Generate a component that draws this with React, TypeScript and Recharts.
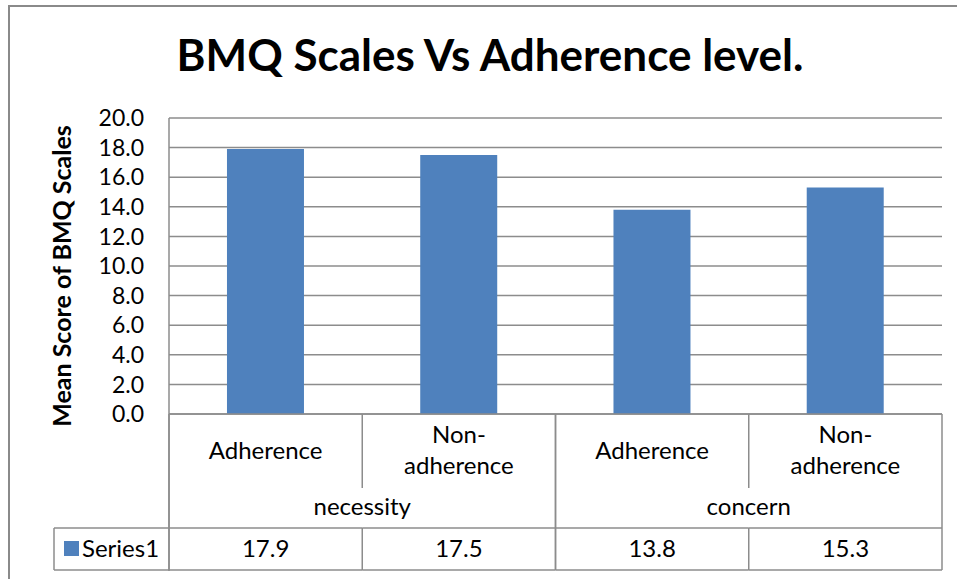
import { BarChart, Bar, XAxis, YAxis, CartesianGrid } from 'recharts';

const groupNames = ['necessity', 'necessity', 'concern', 'concern'];
const levelNames = ['Adherence', 'Non-\nadherence', 'Adherence', 'Non-\nadherence'];
const series1 = [17.9, 17.5, 13.8, 15.3];
const yTicks = [0, 2, 4, 6, 8, 10, 12, 14, 16, 18, 20];
const seriesName = 'Series1';
const title = 'BMQ Scales Vs Adherence level.';
const yTitle = 'Mean Score of BMQ Scales';

const data = levelNames.map((level, i) => ({
  id: i,
  level,
  group: groupNames[i],
  value: series1[i],
}));

const W = 957;
const H = 579;
const PLOT_LEFT = 169;
const PLOT_RIGHT = 942;
const PLOT_TOP = 118;
const PLOT_BOTTOM = 414;
const BAND = (PLOT_RIGHT - PLOT_LEFT) / data.length;
const LINE = '#8c8c8c';
const BAR = '#4f81bd';
const FONT = 'Lato, "Open Sans", sans-serif';
const FS = 24;

const TableTick = (props: any) => {
  const { x, y, payload, index } = props;
  const d = data[index] || data[payload.index];
  const left = x - BAND / 2;
  const right = x + BAND / 2;
  const lines = d.level.split('\n');
  const firstInGroup = index === 0 || data[index - 1].group !== d.group;
  const lastInGroup = index === data.length - 1 || data[index + 1].group !== d.group;
  return (
    <g>
      {lines.length === 1 ? (
        <text x={x} y={y + 45} textAnchor="middle" fontSize={FS} fill="#000" fontFamily={FONT}>
          {lines[0]}
        </text>
      ) : (
        lines.map((l: string, k: number) => (
          <text key={k} x={x} y={y + 29 + k * 31} textAnchor="middle" fontSize={FS} fill="#000" fontFamily={FONT}>
            {l}
          </text>
        ))
      )}
      {firstInGroup ? (
        <line x1={left} x2={left} y1={y} y2={y + 156} stroke={LINE} strokeWidth={1.5} />
      ) : (
        <>
          <line x1={left} x2={left} y1={y} y2={y + 74} stroke={LINE} strokeWidth={1.5} />
          <line x1={left} x2={left} y1={y + 114} y2={y + 156} stroke={LINE} strokeWidth={1.5} />
        </>
      )}
      {lastInGroup && (
        <line x1={right} x2={right} y1={y} y2={y + 156} stroke={LINE} strokeWidth={1.5} />
      )}
      {firstInGroup && (
        <text x={right} y={y + 101} textAnchor="middle" fontSize={FS} fill="#000" fontFamily={FONT}>
          {d.group}
        </text>
      )}
      <line x1={left} x2={right} y1={y + 114} y2={y + 114} stroke={LINE} strokeWidth={1.5} />
      <line x1={left} x2={right} y1={y + 156} y2={y + 156} stroke={LINE} strokeWidth={1.5} />
      <text x={x} y={y + 143} textAnchor="middle" fontSize={FS} fill="#000" fontFamily={FONT}>
        {d.value.toFixed(1)}
      </text>
      {index === 0 && (
        <g>
          <line x1={54} x2={left} y1={y + 114} y2={y + 114} stroke={LINE} strokeWidth={1.5} />
          <line x1={54} x2={left} y1={y + 156} y2={y + 156} stroke={LINE} strokeWidth={1.5} />
          <line x1={54} x2={54} y1={y + 114} y2={y + 156} stroke={LINE} strokeWidth={1.5} />
          <rect x={64} y={y + 127} width={15} height={15} fill={BAR} />
          <text x={82} y={y + 143} fontSize={FS} fill="#000" fontFamily={FONT}>
            {seriesName}
          </text>
        </g>
      )}
    </g>
  );
};

const YTitle = (props: any) => {
  const cy = (PLOT_TOP + PLOT_BOTTOM) / 2 + 10;
  return (
    <text
      x={61}
      y={cy}
      transform={`rotate(-90, 61, ${cy})`}
      textAnchor="middle"
      dominantBaseline="central"
      fontSize={25}
      fontWeight="bold"
      fill="#000"
      fontFamily={FONT}
    >
      {yTitle}
    </text>
  );
};

export default function App() {
  return (
    <div style={{ position: 'absolute', left: 0, top: 0, width: W, height: H, background: '#fff', overflow: 'hidden' }}>
      <div
        style={{
          position: 'absolute',
          left: 8,
          top: 5,
          width: W - 8,
          height: H - 5,
          borderLeft: '2px solid #8a8a8a',
          borderTop: '2px solid #8a8a8a',
          boxSizing: 'border-box',
        }}
      />
      <div
        style={{
          position: 'absolute',
          left: 0,
          top: 27,
          width: 980,
          textAlign: 'center',
          fontFamily: FONT,
          fontWeight: 'bold',
          fontSize: 44,
          lineHeight: '54px',
          color: '#000',
        }}
      >
        {title}
      </div>
      <div style={{ position: 'absolute', left: 0, top: 0 }}>
        <BarChart
          width={W}
          height={H}
          data={data}
          margin={{ top: PLOT_TOP, right: W - PLOT_RIGHT, bottom: 0, left: 0 }}
          barCategoryGap="30%"
        >
          <CartesianGrid vertical={false} stroke={LINE} strokeWidth={1.5} />
          <XAxis
            dataKey="id"
            height={H - PLOT_BOTTOM}
            tickLine={false}
            tickSize={0}
            tickMargin={0}
            axisLine={{ stroke: LINE, strokeWidth: 1.5 }}
            tick={<TableTick />}
            interval={0}
          />
          <YAxis
            width={PLOT_LEFT}
            domain={[0, 20]}
            ticks={yTicks}
            interval={0}
            tickFormatter={(v: number) => v.toFixed(1)}
            tickLine={false}
            tickSize={0}
            tickMargin={25}
            axisLine={{ stroke: LINE, strokeWidth: 1.5 }}
            tick={{ fontSize: 23, fill: '#000', fontFamily: FONT }}
            label={<YTitle />}
          />
          <Bar dataKey="value" fill={BAR} isAnimationActive={false} />
        </BarChart>
      </div>
      <svg style={{ position: 'absolute', left: 0, top: 0, pointerEvents: 'none' }} width={W} height={H}>
        <line x1={PLOT_LEFT} x2={PLOT_LEFT} y1={PLOT_BOTTOM} y2={571} stroke={LINE} strokeWidth={1.5} />
      </svg>
    </div>
  );
}
